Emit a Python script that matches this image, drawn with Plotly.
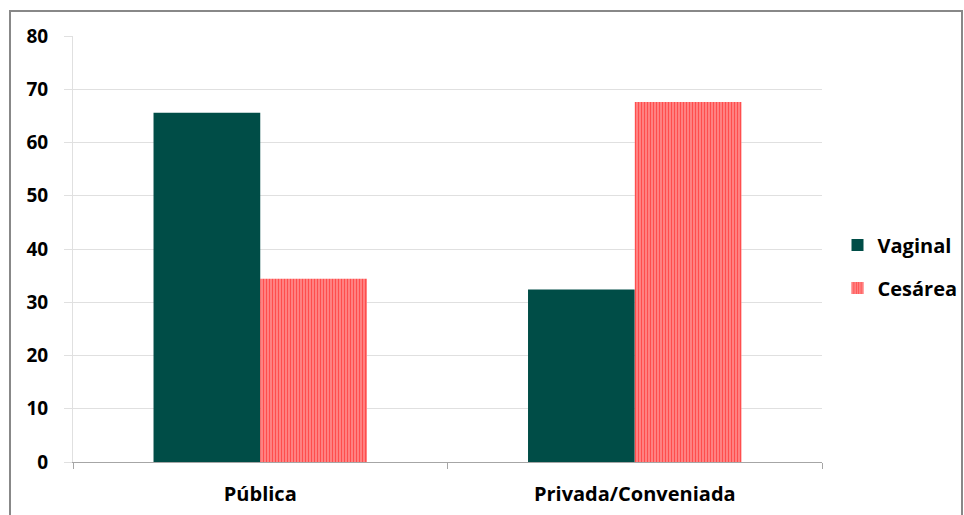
import plotly.graph_objects as go

categories = ["Pública", "Privada/Conveniada"]
vaginal = [65.6, 32.4]
cesarea = [34.4, 67.6]
y_ticks = [0, 10, 20, 30, 40, 50, 60, 70, 80]

W, H = 964, 515
L, R, T, B = 73, 142, 36, 53
pw, ph = W - L - R, H - T - B

fig = go.Figure()
fig.add_trace(go.Bar(name="Vaginal", x=categories, y=vaginal, legendgroup="a",
                     marker=dict(color="#004d47", line=dict(width=0))))
fig.add_trace(go.Bar(name="Cesárea", x=categories, y=cesarea, legendgroup="b",
                     marker=dict(color="#ff0000", line=dict(width=0),
                                 pattern=dict(shape="|", fgcolor="#ff0000", bgcolor="#ff9a9a",
                                              size=3, solidity=0.55))))

def px2x(p):
    return (p - L) / pw

def px2y(p):
    return (H - B - p) / ph

fig.add_shape(type="rect", xref="paper", yref="paper",
              x0=px2x(10), x1=px2x(962), y0=px2y(530), y1=px2y(11),
              line=dict(color="#888888", width=2), fillcolor="rgba(0,0,0,0)", layer="below")

fig.update_layout(
    width=W, height=H,
    margin=dict(l=L, r=R, t=T, b=B, autoexpand=False),
    paper_bgcolor="white", plot_bgcolor="white",
    barmode="group", bargap=0.43, bargroupgap=0,
    font=dict(family="Open Sans, DejaVu Sans, sans-serif", color="#000000"),
    legend=dict(x=1.0207, y=0.459, yanchor="middle", xanchor="left",
                font=dict(size=20, weight="bold"), itemwidth=30, tracegroupgap=14,
                bgcolor="rgba(0,0,0,0)"),
    xaxis=dict(showgrid=False, showline=True, linecolor="#a6a6a6", linewidth=1,
               ticks="outside", tickson="boundaries", ticklen=6, tickcolor="#a6a6a6",
               ticklabelstandoff=14,
               tickfont=dict(size=20, weight="bold"), fixedrange=True),
    yaxis=dict(range=[0, 80], tickvals=y_ticks, showgrid=True, gridcolor="#e0e0e0", gridwidth=1,
               showline=True, linecolor="#e0e0e0", ticks="outside", ticklen=8, tickcolor="#e0e0e0",
               ticklabelstandoff=12,
               tickfont=dict(size=19, weight="bold"), zeroline=False, fixedrange=True),
)

fig.write_html("out.html")
